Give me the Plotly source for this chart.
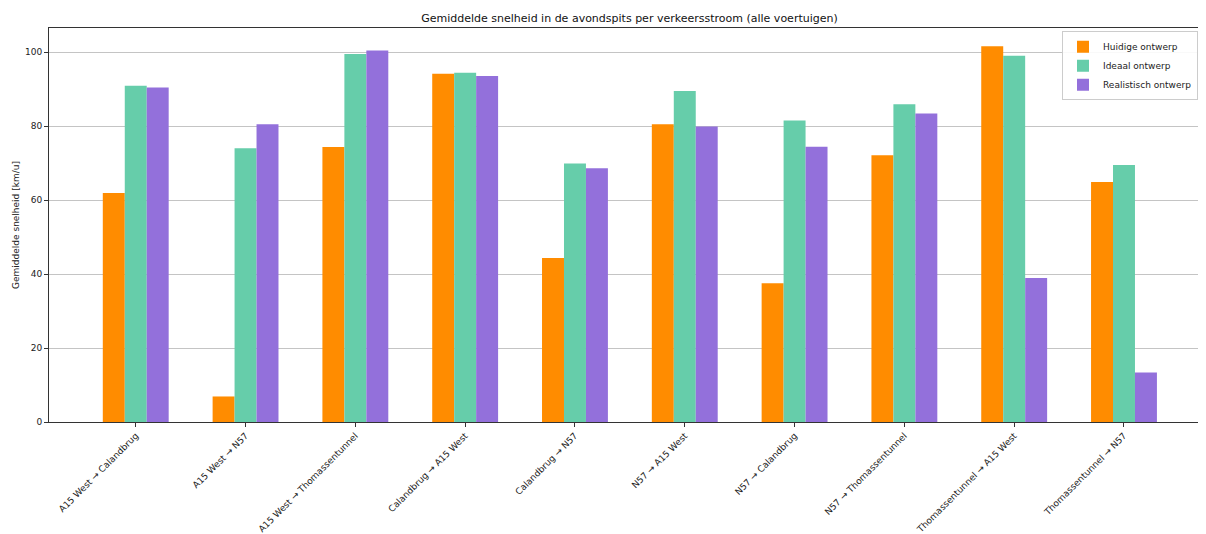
import plotly.graph_objects as go

categories = [
    "A15 West → Calandbrug",
    "A15 West → N57",
    "A15 West → Thomassentunnel",
    "Calandbrug → A15 West",
    "Calandbrug → N57",
    "N57 → A15 West",
    "N57 → Calandbrug",
    "N57 → Thomassentunnel",
    "Thomassentunnel → A15 West",
    "Thomassentunnel → N57",
]
huidige = [61.9, 6.9, 74.3, 94.1, 44.3, 80.5, 37.5, 72.1, 101.6, 64.9]
ideaal = [90.9, 74.0, 99.5, 94.4, 69.9, 89.5, 81.5, 85.9, 99.0, 69.5]
realistisch = [90.4, 80.5, 100.4, 93.5, 68.6, 79.9, 74.4, 83.4, 38.9, 13.4]

series_names = ["Huidige ontwerp", "Ideaal ontwerp", "Realistisch ontwerp"]
series_values = [huidige, ideaal, realistisch]
colors = ["#FF8C00", "#66CDAA", "#9370DB"]

fig = go.Figure()
for name, vals, col in zip(series_names, series_values, colors):
    fig.add_trace(go.Bar(x=categories, y=vals, name=name, marker_color=col,
                         marker_line_width=0))

# the page body has an 8px margin, so the figure is laid out 8px up/left
font_family = "DejaVu Sans"
fig.update_layout(
    width=1190, height=526,
    margin=dict(l=41, r=0, t=20, b=112, autoexpand=False),
    paper_bgcolor="white", plot_bgcolor="white",
    font=dict(family=font_family, size=9, color="#222222"),
    barmode="group", bargap=0.4, bargroupgap=0,
    title=dict(text="Gemiddelde snelheid in de avondspits per verkeersstroom (alle voertuigen)",
               x=621.5 / 1190, xanchor="center", y=1 - 10 / 526, yanchor="middle",
               font=dict(size=11, color="#111111")),
    legend=dict(x=1.0, xanchor="right", y=0.992, yanchor="top",
                bgcolor="rgba(255,255,255,0.9)", bordercolor="#cccccc", borderwidth=1,
                font=dict(size=9), tracegroupgap=0),
    showlegend=True,
)
fig.update_xaxes(
    type="category", range=[-0.79, 9.674], automargin=False,
    showline=True, linecolor="#333333", linewidth=1, mirror=True,
    ticks="outside", ticklen=4, tickcolor="#333333",
    tickangle=-45, showgrid=False,
    tickfont=dict(size=9),
)
fig.update_yaxes(
    range=[0, 106.5], tickvals=[0, 20, 40, 60, 80, 100], automargin=False,
    showline=True, linecolor="#333333", linewidth=1,
    ticks="outside", ticklen=4, tickcolor="#333333",
    showgrid=True, gridcolor="#c4c4c4", gridwidth=1, zeroline=False,
    title=dict(text="Gemiddelde snelheid [km/u]", font=dict(size=9), standoff=3),
    tickfont=dict(size=9),
)

fig.write_html("out.html")
